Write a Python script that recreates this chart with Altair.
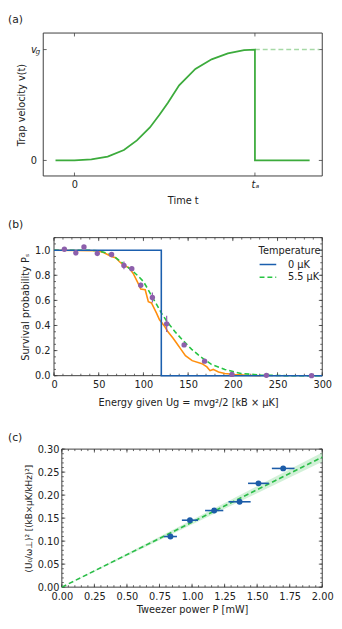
import altair as alt
import pandas as pd

FONT = "DejaVu Sans"
INK = "#222222"
FRAME = "#3c3c3c"

# ---------------- panel (a): trap velocity ----------------
a_t = [-0.105, 0.0, 0.094, 0.184, 0.274, 0.346, 0.418, 0.472, 0.517, 0.58, 0.67, 0.76, 0.85, 0.94, 1.0, 1.0, 1.303]
a_v = [0.0, 0.0, 0.009, 0.035, 0.094, 0.181, 0.298, 0.415, 0.518, 0.678, 0.825, 0.912, 0.965, 0.994, 1.0, 0.0, 0.0]
a_hold_t = [1.0, 1.357]
a_hold_v = [1.0, 1.0]
a_xticks = [0.0, 1.0]
a_yticks = [0.0, 1.0]

# ---------------- panel (b): survival probability ----------------
b_temps = ["0 μK", "5.5 μK"]
b_step_E = [0, 120, 120, 300]
b_step_P = [1.0, 1.0, 0.0, 0.0]
b_therm_E = [0, 40, 50, 62, 70, 78, 87, 94, 100, 105, 110, 115, 120, 127, 136, 145, 154, 164, 176, 191, 209, 231, 260, 300]
b_therm_P = [1.0, 1.0, 0.995, 0.97, 0.935, 0.89, 0.84, 0.795, 0.75, 0.69, 0.625, 0.565, 0.50, 0.425, 0.345, 0.275,
             0.21, 0.15, 0.09, 0.05, 0.018, 0.005, 0.0, 0.0]
b_sim_E = [0, 49, 56, 64, 69, 73, 78, 84, 89, 94.5, 97, 102, 105.5, 109, 114.5, 118, 124, 127, 133, 138, 142, 147,
           154.5, 165.5, 171, 174.5, 178, 184, 191, 202, 216, 231]
b_sim_P = [1.0, 0.995, 0.98, 0.95, 0.94, 0.91, 0.88, 0.86, 0.81, 0.73, 0.69, 0.685, 0.59, 0.58, 0.50, 0.445, 0.39,
           0.354, 0.30, 0.25, 0.21, 0.16, 0.12, 0.096, 0.07, 0.04, 0.05, 0.03, 0.018, 0.01, 0.003, 0.0]
b_meas_E = [11.6, 24.4, 33.5, 48.4, 64.4, 78.2, 87, 97, 110, 126, 145.5, 168.4, 199, 237.5, 288]
b_meas_P = [1.008, 0.979, 1.026, 0.974, 0.966, 0.879, 0.853, 0.721, 0.623, 0.413, 0.245, 0.116, 0.01, 0.003, 0.0]
b_meas_err = [0.012, 0.02, 0.012, 0.015, 0.012, 0.03, 0.015, 0.02, 0.04, 0.065, 0.015, 0.015, 0.008, 0.005, 0.004]
b_xticks = [0, 50, 100, 150, 200, 250, 300]
b_yticks = [0.0, 0.2, 0.4, 0.6, 0.8, 1.0]

# ---------------- panel (c): calibration ----------------
c_P = [0.834, 0.984, 1.17, 1.365, 1.51, 1.70]
c_Y = [0.110, 0.1455, 0.1665, 0.1855, 0.2256, 0.258]
c_xerr = [0.05, 0.062, 0.07, 0.085, 0.08, 0.087]
c_fit_P = [0.0, 2.0]
c_fit_Y = [0.0, 0.2825]
c_band_lo = [0.0, 0.2725]
c_band_hi = [0.0, 0.2925]
c_xticks = [0.0, 0.25, 0.5, 0.75, 1.0, 1.25, 1.5, 1.75, 2.0]
c_yticks = [0.0, 0.05, 0.1, 0.15, 0.2, 0.25, 0.3]

W = 285  # common view width; each panel's frame starts at its own x0 inside it


def frame_layers(x0, H):
    base = alt.Chart(pd.DataFrame({"k": [0]})).mark_rule(color=FRAME, strokeWidth=1)
    return [
        base.encode(x=alt.value(x0), x2=alt.value(W), y=alt.value(0)),
        base.encode(x=alt.value(x0), x2=alt.value(W), y=alt.value(H)),
        base.encode(x=alt.value(x0), y=alt.value(0), y2=alt.value(H)),
        base.encode(x=alt.value(W), y=alt.value(0), y2=alt.value(H)),
    ]


def tick_layers(X, Y, x0, H, xmaj, xmin, ymaj, ymin, Lmaj=3.5, Lmin=2.0):
    out = []
    for vals, L in ((xmaj, Lmaj), (xmin, Lmin)):
        if not vals:
            continue
        base = alt.Chart(pd.DataFrame({"v": vals})).mark_rule(color=FRAME, strokeWidth=0.8)
        out.append(base.encode(x=X("v"), y=alt.value(H), y2=alt.value(H - L)))
        out.append(base.encode(x=X("v"), y=alt.value(0), y2=alt.value(L)))
    for vals, L in ((ymaj, Lmaj), (ymin, Lmin)):
        if not vals:
            continue
        base = alt.Chart(pd.DataFrame({"v": vals})).mark_rule(color=FRAME, strokeWidth=0.8)
        out.append(base.encode(y=Y("v"), x=alt.value(x0), x2=alt.value(x0 + L)))
        out.append(base.encode(y=Y("v"), x=alt.value(W), x2=alt.value(W - L)))
    return out


def minor(lo, hi, step):
    n = int(round((hi - lo) / step))
    return [round(lo + k * step, 4) for k in range(n + 1)]


def panel_label(txt, dy):
    return alt.Chart(pd.DataFrame({"s": [txt]})).mark_text(
        align="left", baseline="middle", font=FONT, fontSize=11, color=INK
    ).encode(text="s:N", x=alt.value(-36), y=alt.value(dy))


def enc_factory(channel, scale, axis):
    def f(field):
        return channel(field + ":Q", scale=scale, axis=axis)
    return f


# ---------- (a) ----------
XA0, HA = 0, 146
axs = alt.Scale(domain=[-0.173, 1.373], nice=False, zero=False, range=[XA0, W])
ays = alt.Scale(domain=[-0.14, 1.149], nice=False, zero=False)
ax_a_x = alt.Axis(title="Time t", values=a_xticks, labelExpr="datum.value == 0 ? '0' : 'tₐ'", labelPadding=4,
                  titlePadding=6, titleX=(XA0 + W) / 2,
                  labelFontStyle={"condition": {"test": "datum.value == 1", "value": "italic"}, "value": "normal"})
ax_a_y = alt.Axis(title="Trap velocity v(t)", values=a_yticks,
                  labelExpr="datum.value == 0 ? '0' : 'v\u00a0'", labelPadding=7,
                  labelFontStyle={"condition": {"test": "datum.value == 1", "value": "italic"}, "value": "normal"})
AX = enc_factory(alt.X, axs, ax_a_x)
AY = enc_factory(alt.Y, ays, ax_a_y)
GREEN_A = "#3cab3c"

a_df = pd.DataFrame({"t": a_t, "v": a_v, "i": list(range(len(a_t)))})
a_line = alt.Chart(a_df).mark_line(color=GREEN_A, strokeWidth=1.8).encode(x=AX("t"), y=AY("v"), order="i:Q")
a_hold = alt.Chart(pd.DataFrame({"t": a_hold_t, "v": a_hold_v})).mark_line(
    color="#a6d9a6", strokeWidth=1.5, strokeDash=[5, 3]).encode(x=AX("t"), y=AY("v"))
a_sub = alt.Chart(pd.DataFrame({"v": [1.0], "s": ["g"]})).mark_text(
    align="left", baseline="middle", font=FONT, fontSize=7.5, fontStyle="italic", color=INK, dy=3
).encode(y=AY("v"), x=alt.value(XA0 - 8), text="s:N")

pa = alt.layer(
    *frame_layers(XA0, HA),
    *tick_layers(AX, AY, XA0, HA, a_xticks, [], a_yticks, []),
    a_hold, a_line, a_sub, panel_label("(a)", -13)
).properties(width=W, height=HA)

# ---------- (b) ----------
XB0, HB = 11, 141
bxs = alt.Scale(domain=[0, 300], nice=False, zero=False, range=[XB0, W])
bys = alt.Scale(domain=[0, 1.1], nice=False, zero=False)
ax_b_x = alt.Axis(title="Energy given Ug = mvg²/2 [kB × μK]", values=b_xticks, labelPadding=4, titlePadding=8,
                  titleX=(XB0 + W) / 2)
ax_b_y = alt.Axis(title="Survival probability Pₛ", values=b_yticks, format=".1f", labelPadding=4, offset=-XB0)
BX = enc_factory(alt.X, bxs, ax_b_x)
BY = enc_factory(alt.Y, bys, ax_b_y)
BLUE_B, GREEN_B, ORANGE_B, PURPLE_B = "#1b5fae", "#26c442", "#ff8f0e", "#8d5fab"

leg = alt.Legend(title="Temperature", orient="none", legendX=220, legendY=9, symbolType="stroke",
                 symbolSize=289, symbolStrokeWidth=1.6, labelFontSize=10, titleFontSize=10,
                 titleFontWeight="normal", labelOffset=11, rowPadding=0, titlePadding=2, padding=0,
                 clipHeight=13, labelFont=FONT, titleFont=FONT, labelColor=INK, titleColor=INK)
col = alt.Color("T:N", scale=alt.Scale(domain=b_temps, range=[BLUE_B, GREEN_B]), legend=leg)
dsh = alt.StrokeDash("T:N", scale=alt.Scale(domain=b_temps, range=[[1, 0], [5, 3]]), legend=leg)

sim_df = pd.DataFrame({"E": b_sim_E, "P": b_sim_P, "i": list(range(len(b_sim_E)))})
b_sim = alt.Chart(sim_df).mark_line(color=ORANGE_B, strokeWidth=1.6).encode(x=BX("E"), y=BY("P"), order="i:Q")
therm_df = pd.DataFrame({"E": b_therm_E, "P": b_therm_P, "T": b_temps[1], "i": list(range(len(b_therm_E)))})
b_therm = alt.Chart(therm_df).mark_line(strokeWidth=1.6).encode(
    x=BX("E"), y=BY("P"), color=col, strokeDash=dsh, order="i:Q")
step_df = pd.DataFrame({"E": b_step_E, "P": b_step_P, "T": b_temps[0], "i": list(range(len(b_step_E)))})
b_step = alt.Chart(step_df).mark_line(strokeWidth=1.6).encode(
    x=BX("E"), y=BY("P"), color=col, strokeDash=dsh, order="i:Q")
meas_df = pd.DataFrame({"E": b_meas_E, "P": b_meas_P,
                        "lo": [p - e for p, e in zip(b_meas_P, b_meas_err)],
                        "hi": [p + e for p, e in zip(b_meas_P, b_meas_err)]})
b_err = alt.Chart(meas_df).mark_rule(color=PURPLE_B, strokeWidth=1.2).encode(x=BX("E"), y=BY("lo"), y2="hi:Q")
b_pts = alt.Chart(meas_df).mark_circle(color=PURPLE_B, size=30, opacity=1).encode(x=BX("E"), y=BY("P"))

pb = alt.layer(
    *frame_layers(XB0, HB),
    *tick_layers(BX, BY, XB0, HB, b_xticks, minor(0, 300, 10), b_yticks, minor(0, 1.1, 0.05)),
    b_sim, b_therm, b_step, b_err, b_pts, panel_label("(b)", -13)
).properties(width=W, height=HB)

# ---------- (c) ----------
XC0, HC = 19, 141
cxs = alt.Scale(domain=[0, 2.0], nice=False, zero=False, range=[XC0, W])
cys = alt.Scale(domain=[0, 0.30], nice=False, zero=False)
ax_c_x = alt.Axis(title="Tweezer power P [mW]", values=c_xticks, format=".2f", labelPadding=5, titlePadding=3,
                  titleX=(XC0 + W) / 2)
ax_c_y = alt.Axis(title="(U₀/ω⊥)² [(kB×μK/kHz)²]", values=c_yticks, format=".2f",
                  labelPadding=3, titleFontSize=9, offset=-XC0)
CX = enc_factory(alt.X, cxs, ax_c_x)
CY = enc_factory(alt.Y, cys, ax_c_y)
BLUE_C, GREEN_C = "#1c5ca8", "#2bbd48"

band_df = pd.DataFrame({"P": c_fit_P, "lo": c_band_lo, "hi": c_band_hi})
c_band = alt.Chart(band_df).mark_area(color="#9be0a8", opacity=0.45).encode(x=CX("P"), y=CY("lo"), y2="hi:Q")
fit_df = pd.DataFrame({"P": c_fit_P, "Y": c_fit_Y})
c_fit = alt.Chart(fit_df).mark_line(color=GREEN_C, strokeWidth=1.6, strokeDash=[5, 3]).encode(x=CX("P"), y=CY("Y"))
pts_df = pd.DataFrame({"P": c_P, "Y": c_Y,
                       "lo": [p - e for p, e in zip(c_P, c_xerr)],
                       "hi": [p + e for p, e in zip(c_P, c_xerr)]})
c_err = alt.Chart(pts_df).mark_rule(color=BLUE_C, strokeWidth=1.6).encode(x=CX("lo"), x2="hi:Q", y=CY("Y"))
c_pts = alt.Chart(pts_df).mark_circle(color=BLUE_C, size=36, opacity=1).encode(x=CX("P"), y=CY("Y"))

pc = alt.layer(
    *frame_layers(XC0, HC),
    *tick_layers(CX, CY, XC0, HC, c_xticks, minor(0, 2.0, 0.05), c_yticks, minor(0, 0.3, 0.01)),
    c_band, c_fit, c_err, c_pts, panel_label("(c)", -11)
).properties(width=W, height=HC)

inner = alt.vconcat(pa, pb, spacing=14).resolve_scale(color="independent", strokeDash="independent")
chart = alt.vconcat(inner, pc, spacing=26).resolve_scale(
    color="independent", strokeDash="independent").properties(
    padding={"left": 0, "top": 0, "right": 0, "bottom": 0}
).configure(font=FONT).configure_view(stroke=None).configure_axis(
    labelFont=FONT, titleFont=FONT, labelFontSize=10, titleFontSize=10, labelColor=INK, titleColor=INK,
    titleFontWeight="normal", grid=False, ticks=False, tickSize=0, domain=False, titlePadding=4,
    labelFlush=False, labelOverlap=False
)

chart.save("out.html", embed_options={"renderer": "svg", "actions": False})
